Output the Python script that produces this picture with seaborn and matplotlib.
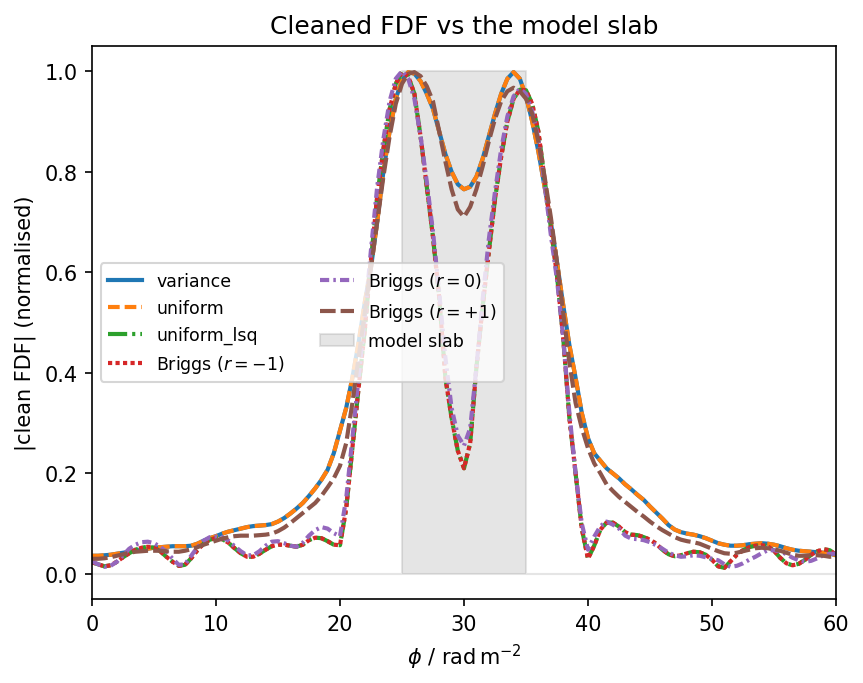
import numpy as np
import matplotlib
matplotlib.use("Agg")
import matplotlib.pyplot as plt
import seaborn as sns

# Faraday depth grid (rad m^-2), sampled every 0.5
phi = np.arange(0, 60.5, 0.5)

# normalised |clean FDF|, one value per phi sample
variance = [
    0.036, 0.036, 0.037, 0.038, 0.040, 0.042, 0.044, 0.046, 0.048, 0.050,
    0.052, 0.053, 0.054, 0.055, 0.055, 0.055, 0.056, 0.060, 0.066, 0.071,
    0.075, 0.080, 0.084, 0.087, 0.090, 0.093, 0.095, 0.096, 0.097, 0.099,
    0.104, 0.111, 0.120, 0.130, 0.141, 0.155, 0.170, 0.187, 0.207, 0.240,
    0.285, 0.330, 0.390, 0.460, 0.540, 0.610, 0.700, 0.800, 0.880, 0.945,
    0.982, 0.998, 0.995, 0.980, 0.955, 0.925, 0.880, 0.835, 0.800, 0.775,
    0.765, 0.770, 0.790, 0.825, 0.870, 0.915, 0.955, 0.985, 0.998, 0.985,
    0.950, 0.900, 0.840, 0.770, 0.700, 0.620, 0.535, 0.455, 0.390, 0.320,
    0.270, 0.240, 0.225, 0.210, 0.200, 0.190, 0.178, 0.168, 0.157, 0.147,
    0.134, 0.122, 0.110, 0.097, 0.088, 0.083, 0.080, 0.078, 0.075, 0.071,
    0.066, 0.061, 0.058, 0.056, 0.056, 0.057, 0.059, 0.060, 0.061, 0.060,
    0.058, 0.055, 0.051, 0.048, 0.046, 0.045, 0.044, 0.043, 0.042, 0.040,
    0.037,
]

uniform = [
    0.036, 0.036, 0.037, 0.038, 0.040, 0.042, 0.044, 0.046, 0.048, 0.050,
    0.052, 0.053, 0.054, 0.055, 0.055, 0.055, 0.056, 0.060, 0.066, 0.071,
    0.075, 0.080, 0.084, 0.087, 0.090, 0.093, 0.095, 0.096, 0.097, 0.099,
    0.104, 0.111, 0.120, 0.130, 0.141, 0.155, 0.170, 0.187, 0.207, 0.240,
    0.285, 0.330, 0.390, 0.460, 0.540, 0.610, 0.700, 0.800, 0.880, 0.945,
    0.982, 0.998, 0.995, 0.980, 0.955, 0.925, 0.880, 0.835, 0.800, 0.775,
    0.765, 0.770, 0.790, 0.825, 0.870, 0.915, 0.955, 0.985, 0.998, 0.985,
    0.950, 0.900, 0.840, 0.770, 0.700, 0.620, 0.535, 0.455, 0.390, 0.320,
    0.270, 0.240, 0.225, 0.210, 0.200, 0.190, 0.178, 0.168, 0.157, 0.147,
    0.134, 0.122, 0.110, 0.097, 0.088, 0.083, 0.080, 0.078, 0.075, 0.071,
    0.066, 0.061, 0.058, 0.056, 0.056, 0.057, 0.059, 0.060, 0.061, 0.060,
    0.058, 0.055, 0.051, 0.048, 0.046, 0.045, 0.044, 0.043, 0.042, 0.040,
    0.037,
]

uniform_lsq = [
    0.023, 0.019, 0.015, 0.017, 0.024, 0.033, 0.041, 0.048, 0.052, 0.054,
    0.052, 0.045, 0.034, 0.024, 0.016, 0.018, 0.031, 0.047, 0.060, 0.068,
    0.071, 0.069, 0.062, 0.051, 0.041, 0.034, 0.034, 0.040, 0.048, 0.055,
    0.058, 0.058, 0.056, 0.054, 0.058, 0.067, 0.072, 0.071, 0.065, 0.058,
    0.057, 0.130, 0.250, 0.370, 0.485, 0.625, 0.750, 0.845, 0.924, 0.975,
    0.998, 0.990, 0.955, 0.870, 0.770, 0.670, 0.550, 0.390, 0.310, 0.245,
    0.210, 0.260, 0.410, 0.530, 0.640, 0.745, 0.830, 0.900, 0.945, 0.963,
    0.962, 0.935, 0.880, 0.785, 0.690, 0.593, 0.470, 0.310, 0.200, 0.090,
    0.030, 0.056, 0.088, 0.102, 0.102, 0.094, 0.083, 0.078, 0.077, 0.073,
    0.068, 0.060, 0.048, 0.039, 0.035, 0.037, 0.041, 0.044, 0.043, 0.038,
    0.028, 0.015, 0.012, 0.025, 0.038, 0.047, 0.053, 0.056, 0.057, 0.055,
    0.046, 0.032, 0.021, 0.017, 0.020, 0.028, 0.038, 0.045, 0.049, 0.047,
    0.038,
]

briggs_m1 = [
    0.023, 0.019, 0.015, 0.017, 0.024, 0.033, 0.041, 0.048, 0.052, 0.054,
    0.052, 0.045, 0.034, 0.024, 0.016, 0.018, 0.031, 0.047, 0.060, 0.068,
    0.071, 0.069, 0.062, 0.051, 0.041, 0.034, 0.034, 0.040, 0.048, 0.055,
    0.058, 0.058, 0.056, 0.054, 0.058, 0.067, 0.072, 0.071, 0.065, 0.058,
    0.057, 0.130, 0.250, 0.370, 0.485, 0.625, 0.750, 0.845, 0.924, 0.975,
    0.998, 0.990, 0.955, 0.870, 0.770, 0.670, 0.550, 0.390, 0.310, 0.245,
    0.210, 0.260, 0.410, 0.530, 0.640, 0.745, 0.830, 0.900, 0.945, 0.963,
    0.962, 0.935, 0.880, 0.785, 0.690, 0.593, 0.470, 0.310, 0.200, 0.090,
    0.030, 0.056, 0.088, 0.102, 0.102, 0.094, 0.083, 0.078, 0.077, 0.073,
    0.068, 0.060, 0.048, 0.039, 0.035, 0.037, 0.041, 0.044, 0.043, 0.038,
    0.028, 0.015, 0.012, 0.025, 0.038, 0.047, 0.053, 0.056, 0.057, 0.055,
    0.046, 0.032, 0.021, 0.017, 0.020, 0.028, 0.038, 0.045, 0.049, 0.047,
    0.038,
]

briggs_0 = [
    0.025, 0.019, 0.014, 0.016, 0.024, 0.037, 0.050, 0.058, 0.063, 0.064,
    0.061, 0.054, 0.044, 0.030, 0.018, 0.019, 0.036, 0.053, 0.066, 0.073,
    0.074, 0.073, 0.066, 0.055, 0.045, 0.037, 0.037, 0.045, 0.056, 0.064,
    0.065, 0.061, 0.056, 0.054, 0.062, 0.076, 0.087, 0.093, 0.090, 0.081,
    0.075, 0.150, 0.270, 0.390, 0.510, 0.645, 0.770, 0.865, 0.940, 0.985,
    1.000, 0.985, 0.945, 0.870, 0.780, 0.680, 0.560, 0.430, 0.330, 0.275,
    0.255, 0.290, 0.410, 0.545, 0.665, 0.760, 0.845, 0.910, 0.950, 0.965,
    0.955, 0.920, 0.865, 0.775, 0.675, 0.585, 0.470, 0.320, 0.200, 0.100,
    0.048, 0.074, 0.095, 0.104, 0.098, 0.090, 0.076, 0.070, 0.069, 0.067,
    0.063, 0.057, 0.050, 0.042, 0.037, 0.034, 0.035, 0.037, 0.036, 0.033,
    0.030, 0.027, 0.019, 0.014, 0.016, 0.021, 0.028, 0.034, 0.041, 0.047,
    0.047, 0.045, 0.039, 0.032, 0.027, 0.024, 0.026, 0.031, 0.037, 0.040,
    0.040,
]

briggs_p1 = [
    0.030, 0.030, 0.031, 0.033, 0.036, 0.039, 0.042, 0.044, 0.045, 0.046,
    0.046, 0.046, 0.045, 0.044, 0.044, 0.046, 0.049, 0.053, 0.058, 0.062,
    0.066, 0.070, 0.073, 0.075, 0.076, 0.076, 0.076, 0.077, 0.078, 0.080,
    0.085, 0.092, 0.101, 0.111, 0.121, 0.131, 0.141, 0.155, 0.172, 0.190,
    0.215, 0.260, 0.340, 0.430, 0.520, 0.610, 0.700, 0.790, 0.870, 0.935,
    0.975, 0.995, 0.998, 0.990, 0.970, 0.940, 0.880, 0.820, 0.765, 0.725,
    0.710, 0.730, 0.765, 0.810, 0.860, 0.905, 0.940, 0.960, 0.967, 0.960,
    0.945, 0.915, 0.860, 0.790, 0.710, 0.620, 0.520, 0.420, 0.340, 0.290,
    0.250, 0.220, 0.200, 0.178, 0.165, 0.153, 0.143, 0.133, 0.123, 0.114,
    0.104, 0.095, 0.087, 0.080, 0.073, 0.068, 0.065, 0.063, 0.060, 0.055,
    0.050, 0.045, 0.041, 0.040, 0.042, 0.045, 0.048, 0.051, 0.052, 0.051,
    0.049, 0.046, 0.042, 0.038, 0.036, 0.036, 0.037, 0.037, 0.036, 0.034,
    0.035,
]

# model slab: flat between 25 and 35 rad m^-2
slab_phi = [0, 25, 25, 35, 35, 60]
slab_amp = [0, 0, 1, 1, 0, 0]

labels = ["variance", "uniform", "uniform_lsq", r"Briggs ($r=-1$)",
          r"Briggs ($r=0$)", r"Briggs ($r=+1$)"]

fig, ax = plt.subplots(figsize=(863 / 150, 684 / 150), dpi=150)
fig.subplots_adjust(left=0.1066, right=0.9687, bottom=0.1228, top=0.9313)

# dash patterns scaled for the thicker lines
curves = [
    (variance, "tab:blue", "-"),
    (uniform, "tab:orange", (0, (2.8, 1.2))),
    (uniform_lsq, "tab:green", (0, (4.6, 1.2, 0.75, 1.2))),
    (briggs_m1, "tab:red", (0, (1, 0.8))),
    (briggs_0, "tab:purple", (0, (2.2, 1, 0.6, 1))),
    (briggs_p1, "tab:brown", (0, (3.75, 1.2))),
]
for (vals, color, ls), label in zip(curves, labels):
    sns.lineplot(x=phi, y=vals, ax=ax, color=color, linestyle=ls,
                 linewidth=2, label=label)

ax.fill_between(slab_phi, 0, slab_amp, color="grey", alpha=0.2,
                label="model slab")

ax.set_xlim(0, 60)
ax.set_ylim(-0.05, 1.05)
ax.set_title("Cleaned FDF vs the model slab")
ax.set_xlabel(r"$\phi$ / $\mathrm{rad\,m^{-2}}$")
ax.set_ylabel("|clean FDF| (normalised)")
ax.legend(loc="center left", ncol=2, fontsize="small")

fig.savefig("out.png", dpi=150)
